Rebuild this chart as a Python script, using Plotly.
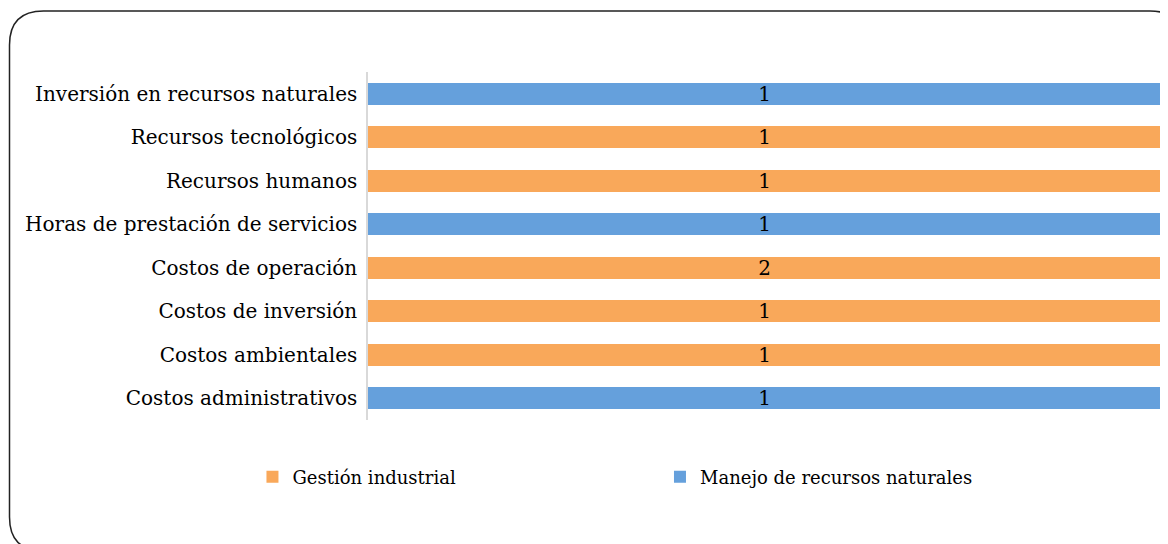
import plotly.graph_objects as go

categories = [
    "Inversión en recursos naturales",
    "Recursos tecnológicos",
    "Recursos humanos",
    "Horas de prestación de servicios",
    "Costos de operación",
    "Costos de inversión",
    "Costos ambientales",
    "Costos administrativos",
]
gestion_industrial = [None, 1, 1, None, 2, 1, 1, None]
manejo_recursos = [1, None, None, 1, None, None, None, 1]

series_names = ["Gestión industrial", "Manejo de recursos naturales"]
orange = "#F9A85A"
blue = "#65A0DC"
FONT = "DejaVu Serif"

W, H = 1168, 544
L, R, T, B = 360, 15, 64, 132
pw, ph = W - L - R, H - T - B


def px(x):
    return (x - L) / pw


def py(y):
    return (H - B - y) / ph


fig = go.Figure()
fig.add_trace(go.Bar(
    y=categories, x=gestion_industrial, orientation="h", name=series_names[0],
    marker=dict(color=orange, line=dict(width=0)),
    text=["" if v is None else str(v) for v in gestion_industrial],
    textposition="inside", insidetextanchor="middle", textangle=0,
    constraintext="none",
    textfont=dict(family=FONT, size=20, color="#000000"),
    hoverinfo="skip", legend="legend",
))
fig.add_trace(go.Bar(
    y=categories, x=manejo_recursos, orientation="h", name=series_names[1],
    marker=dict(color=blue, line=dict(width=0)),
    text=["" if v is None else str(v) for v in manejo_recursos],
    textposition="inside", insidetextanchor="middle", textangle=0,
    constraintext="none",
    textfont=dict(family=FONT, size=20, color="#000000"),
    hoverinfo="skip", legend="legend2",
))

# rounded chart border
xl, xr, yt, yb, r = 1.5, 1176, 3, 543, 34
path = (
    f"M {px(xl)},{py(yt + r)} "
    f"Q {px(xl)},{py(yt)} {px(xl + r)},{py(yt)} "
    f"L {px(xr - r)},{py(yt)} "
    f"Q {px(xr)},{py(yt)} {px(xr)},{py(yt + r)} "
    f"L {px(xr)},{py(yb - r)} "
    f"Q {px(xr)},{py(yb)} {px(xr - r)},{py(yb)} "
    f"L {px(xl + r)},{py(yb)} "
    f"Q {px(xl)},{py(yb)} {px(xl)},{py(yb - r)} Z"
)
fig.add_shape(type="path", path=path, xref="paper", yref="paper",
              line=dict(color="#222222", width=1.5), layer="above")

legend_common = dict(
    orientation="h", xref="container", yref="container",
    xanchor="left", yanchor="middle",
    font=dict(family=FONT, size=18, color="#000000"),
    bgcolor="rgba(0,0,0,0)",
)

fig.update_layout(
    width=W, height=H,
    margin=dict(l=L, r=R, t=T, b=B),
    barmode="stack", barnorm="percent", bargap=0.49,
    paper_bgcolor="white", plot_bgcolor="white",
    font=dict(family=FONT, color="#000000"),
    xaxis=dict(visible=False, range=[0, 100], fixedrange=True),
    yaxis=dict(
        autorange="reversed", showline=True, linecolor="#D9D9D9", linewidth=1.5,
        ticks="", showgrid=False, ticklabelstandoff=5,
        tickfont=dict(family=FONT, size=20, color="#000000"),
    ),
    legend=dict(x=0.2093, y=0.1379, **legend_common),
    legend2=dict(x=0.5582, y=0.1379, **legend_common),
    showlegend=True,
)

fig.write_html("out.html")
